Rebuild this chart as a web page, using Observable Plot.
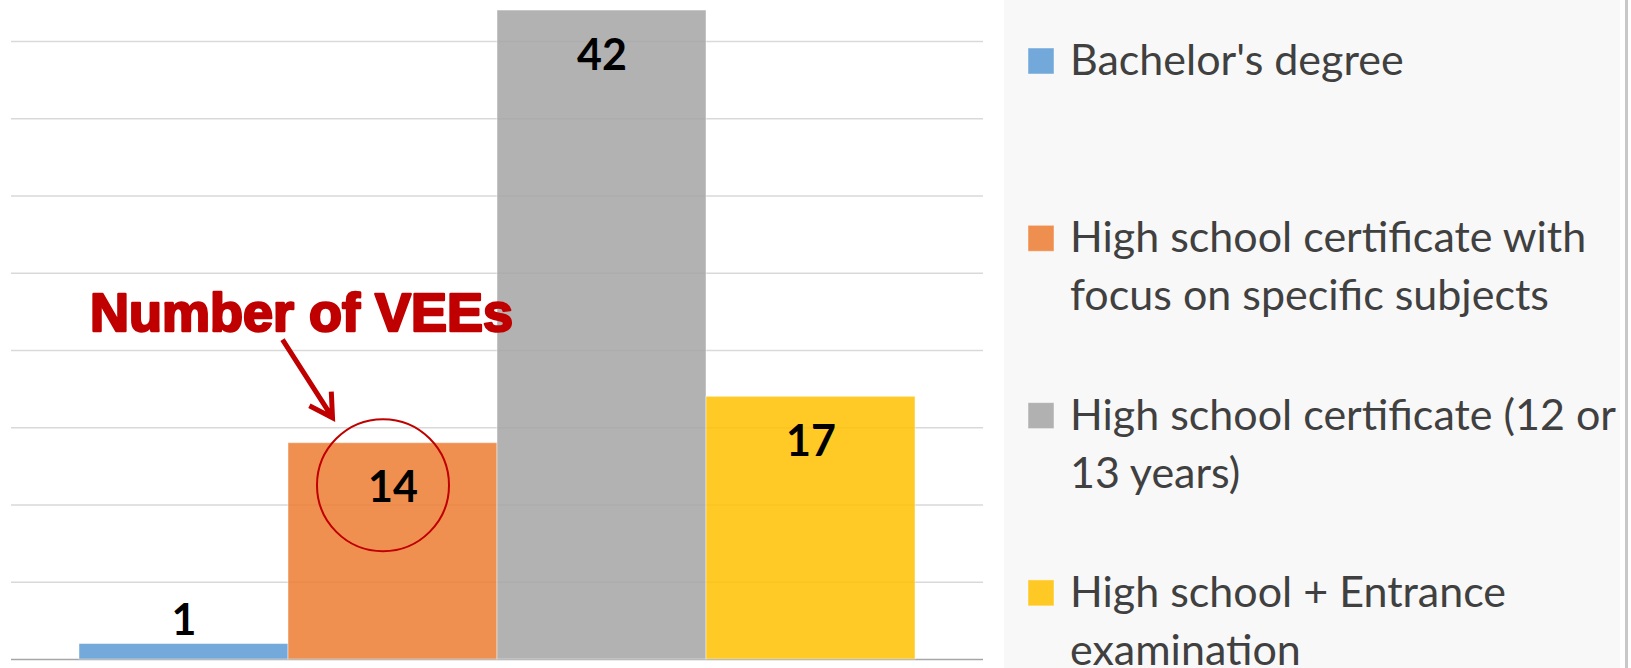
<!DOCTYPE html>
<html><head><meta charset="utf-8">
<script src="https://cdn.jsdelivr.net/npm/d3@7"></script>
<script src="https://cdn.jsdelivr.net/npm/@observablehq/plot@0.6"></script>
<style>html,body{margin:0;padding:0;background:#fff;overflow:hidden}</style>
</head><body><div id="chart"></div>
<script>
const categories = [
  "Bachelor's degree",
  "High school certificate with focus on specific subjects",
  "High school certificate (12 or 13 years)",
  "High school + Entrance examination"
];
const values = [1, 14, 42, 17];
const colors = ["#5B9BD5", "#ED7D31", "#A5A5A5", "#FFC000"];
const legendLines = [
  ["Bachelor's degree"],
  ["High school certificate with", "focus on specific subjects"],
  ["High school certificate (12 or", "13 years)"],
  ["High school + Entrance", "examination"]
];
const gridTicks = [5, 10, 15, 20, 25, 30, 35, 40];
const annotationText = "Number of VEEs";
const annotatedIndex = 1;

const data = categories.map((c, i) => ({category: c, value: values[i]}));
const annotated = [data[annotatedIndex]];

const chart = Plot.plot({
  width: 1631, height: 668,
  marginLeft: 11, marginRight: 648, marginTop: 0, marginBottom: 9,
  x: {type: "band", domain: categories, paddingInner: 0, paddingOuter: 0.3226, axis: null},
  y: {domain: [0, 42.65], axis: null},
  color: {domain: categories, range: colors},
  style: {background: "white", overflow: "visible"},
  marks: [
    Plot.ruleY(gridTicks, {stroke: "#d9d9d9", strokeWidth: 1.5}),
    Plot.ruleY([0], {stroke: "#a6a6a6", strokeWidth: 1.5}),
    Plot.barY(data, {x: "category", y: "value", fill: "category", fillOpacity: 0.85,
      stroke: "white", strokeOpacity: 0.45, strokeWidth: 1, inset: 0}),
    Plot.text(data.filter(d => d.value >= 5), {x: "category", y: "value", text: d => String(d.value),
      dy: 59, lineAnchor: "bottom", fontSize: 43, fontWeight: "bold", fontFamily: "Lato", fill: "#000"}),
    Plot.text(data.filter(d => d.value < 5), {x: "category", y: "value", text: d => String(d.value),
      dy: -9, lineAnchor: "bottom", fontSize: 43, fontWeight: "bold", fontFamily: "Lato", fill: "#000"}),
    Plot.dot(annotated, {x: "category", y: "value", dx: -10, dy: 42, r: 66,
      stroke: "#c00000", strokeWidth: 2, fill: "none"}),
    Plot.text(annotated, {x: "category", y: "value", text: () => annotationText,
      dx: -303, dy: -112, textAnchor: "start", lineAnchor: "bottom",
      fontSize: 54, fontWeight: "bold", fontFamily: "Liberation Sans",
      fill: "#c00000", stroke: "#c00000", strokeWidth: 2.5})
  ]
});
document.getElementById("chart").appendChild(chart);

const svg = d3.select(chart);
// arrow anchored to the annotated bar
const xs = chart.scale("x"), ys = chart.scale("y");
const ax = xs.apply(data[annotatedIndex].category) + xs.bandwidth / 2;
const ay = ys.apply(data[annotatedIndex].value);
const sx = ax - 110, sy = ay - 103, ex = ax - 60, ey = ay - 25;
const ang = Math.atan2(ey - sy, ex - sx);
const wl = 26, wa = Math.PI / 6;
const w1 = [ex - wl * Math.cos(ang - wa), ey - wl * Math.sin(ang - wa)];
const w2 = [ex - wl * Math.cos(ang + wa), ey - wl * Math.sin(ang + wa)];
svg.append("path")
  .attr("d", `M${sx},${sy}L${ex},${ey}M${w1[0]},${w1[1]}L${ex},${ey}L${w2[0]},${w2[1]}`)
  .attr("fill", "none").attr("stroke", "#c00000").attr("stroke-width", 5)
  .attr("stroke-linejoin", "miter");

// legend panel
const lg = svg.append("g").attr("text-anchor", "start");
lg.append("rect").attr("x", 1004).attr("y", 0).attr("width", 616).attr("height", 668).attr("fill", "#f8f8f8");
lg.append("rect").attr("x", 1625).attr("y", 0).attr("width", 3).attr("height", 668).attr("fill", "#c8c8c8");
legendLines.forEach((lines, i) => {
  const b = 75 + i * 177.3;
  lg.append("rect").attr("x", 1028).attr("y", b - 27).attr("width", 26).attr("height", 26)
    .attr("fill", colors[i]).attr("fill-opacity", 0.85)
    .attr("stroke", "white").attr("stroke-opacity", 0.45);
  lines.forEach((t, j) => {
    lg.append("text").attr("x", 1070).attr("y", b + j * 58)
      .attr("text-anchor", "start")
      .attr("font-family", "Lato").attr("font-size", 43).attr("fill", "#404040")
      .text(t);
  });
});
</script></body></html>
